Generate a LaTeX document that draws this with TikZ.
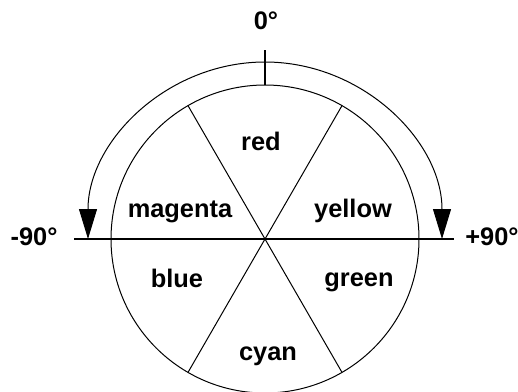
\documentclass[tikz,border=0pt]{standalone}
\usepackage{fontspec}
\setmainfont{Liberation Sans}
\usetikzlibrary{arrows.meta,calc}
\begin{document}
\begin{tikzpicture}[x=1bp,y=-1bp,
  lbl/.style={font=\fontsize{25.5}{30}\selectfont\bfseries, anchor=base, inner sep=0pt},
  thinline/.style={line width=1bp},
  thickline/.style={line width=2bp}]
\useasboundingbox (0,0) rectangle (518,391);
\coordinate (c) at (265,239);
% wheel
\draw[thinline] (c) circle[radius=154];
\foreach \a/\n in {60/s1,120/s2,240/s3,300/s4}
  \draw[thinline] (c) -- ($(c)+(\a:154)$) coordinate (\n);
% axis
\coordinate (hl) at (74,239);
\coordinate (hr) at (454,239);
\draw[thickline] (hl) -- (hr);
\coordinate (vt) at (265,50);
\coordinate (vb) at (265,85);
\draw[thickline] (vt) -- (vb);
% rotation arrow
\coordinate (al) at (88,239);
\draw[thinline, {Triangle[length=30bp,width=18bp]}-{Triangle[length=30bp,width=18bp]}]
  (al) arc[start angle=180, end angle=360, radius=177];
% labels
\node[lbl] (red) at (261,150.7) {red};
\node[lbl] (magenta) at (180,217) {magenta};
\node[lbl] (yellow) at (353,217) {yellow};
\node[lbl] (blue) at (177,287) {blue};
\node[lbl] (green) at (359,286.7) {green};
\node[lbl] (cyan) at (268,360) {cyan};
\node[lbl] (zero) at (266,29.3) {0°};
\node[lbl] (minus) at (34,245.6) {-90°};
\node[lbl] (plus) at (492,245.6) {+90°};
\end{tikzpicture}
\end{document}
